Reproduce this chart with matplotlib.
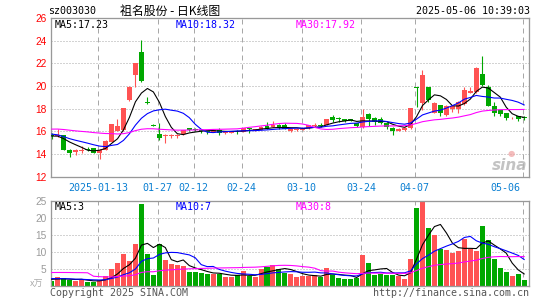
import numpy as np
import matplotlib
matplotlib.use("Agg")
import matplotlib.pyplot as plt
import matplotlib.transforms as mtransforms

# ---------------- data ----------------
date_idx = [8, 18, 24, 32, 42, 52, 61, 79]
date_labels = ['2025-01-13', '01-27', '02-12', '02-24', '03-10', '03-24', '04-07', '05-06']

opens = [15.70, 15.55, 15.68, 14.40, 14.20, 14.30, 14.45, 14.50, 14.05, 14.40,
         15.10, 16.05, 16.12, 18.76, 20.97, 23.03, 18.60, 16.60, 15.76, 15.62,
         15.60, 15.55, 15.76, 16.30, 16.25, 16.15, 16.00, 15.97, 16.15, 15.85,
         15.90, 16.05, 15.97, 16.25, 16.10, 16.12, 16.45, 16.40, 16.55, 16.55,
         16.00, 16.10, 16.15, 16.26, 16.50, 16.55, 16.60, 17.30, 17.15, 17.05,
         17.05, 16.70, 16.35, 17.53, 17.18, 17.06, 16.76, 16.30, 16.06, 16.12,
         16.26, 19.90, 18.53, 19.88, 17.65, 18.32, 17.44, 18.00, 18.00, 18.41,
         19.41, 19.47, 21.06, 19.94, 18.24, 17.88, 17.59, 17.15, 17.35, 17.30]
highs = [15.85, 16.20, 15.72, 14.45, 14.45, 14.70, 14.65, 14.55, 14.45, 15.20,
         16.65, 17.06, 18.05, 20.00, 22.05, 24.06, 19.06, 16.65, 16.70, 15.75,
         15.75, 15.75, 16.12, 16.32, 16.30, 16.25, 16.05, 16.20, 16.28, 16.00,
         16.05, 16.10, 16.30, 16.30, 16.20, 16.45, 16.82, 16.95, 16.65, 16.70,
         16.30, 16.30, 16.28, 16.55, 16.70, 16.70, 17.12, 17.45, 17.30, 17.10,
         17.10, 16.75, 17.94, 17.65, 17.25, 17.30, 16.80, 16.35, 16.30, 16.35,
         18.05, 19.90, 21.41, 19.95, 18.60, 18.35, 18.30, 18.35, 18.65, 19.94,
         19.94, 21.65, 22.65, 20.10, 18.60, 17.90, 17.60, 17.30, 17.40, 17.32]
lows = [15.30, 15.50, 14.35, 13.70, 13.90, 14.10, 14.30, 14.05, 13.60, 14.35,
        15.05, 16.00, 16.00, 18.70, 19.88, 20.40, 18.40, 16.45, 15.23, 15.00,
        15.45, 15.45, 15.72, 16.05, 16.00, 15.85, 15.80, 15.95, 15.65, 15.80,
        15.85, 15.80, 15.95, 15.85, 16.05, 16.10, 16.20, 16.38, 16.20, 16.20,
        15.95, 16.00, 16.10, 16.20, 16.35, 16.35, 16.55, 16.85, 16.85, 16.85,
        16.90, 16.35, 16.30, 16.47, 16.56, 16.65, 16.20, 15.70, 16.00, 16.00,
        16.20, 18.18, 17.88, 18.60, 17.60, 17.38, 17.35, 17.70, 17.65, 18.35,
        19.35, 19.40, 20.00, 18.20, 17.35, 17.35, 17.00, 17.10, 16.95, 17.00]
closes = [15.55, 15.65, 14.40, 14.10, 14.40, 14.40, 14.40, 14.10, 14.40, 15.15,
          16.62, 16.47, 18.03, 19.94, 22.00, 20.47, 18.50, 16.50, 15.38, 15.70,
          15.70, 15.70, 16.10, 16.12, 16.10, 16.05, 15.95, 16.15, 15.90, 15.97,
          16.00, 16.00, 16.28, 16.20, 16.15, 16.40, 16.25, 16.60, 16.30, 16.22,
          16.25, 16.25, 16.22, 16.52, 16.55, 16.50, 17.10, 17.00, 17.10, 16.90,
          16.95, 16.45, 17.24, 17.06, 16.85, 16.76, 16.41, 16.06, 16.24, 16.32,
          18.03, 19.84, 20.97, 18.76, 18.53, 17.59, 18.24, 18.20, 18.62, 19.65,
          19.55, 21.62, 20.09, 18.24, 17.65, 17.55, 17.15, 17.20, 17.10, 17.20]
volumes = [1.4, 2.5, 2.2, 1.7, 1.4, 1.7, 1.2, 1.2, 1.7, 2.9,
           4.9, 6.7, 9.3, 7.3, 12.5, 24.3, 9.3, 3.1, 12.3, 7.5,
           6.4, 6.1, 5.8, 4.0, 4.0, 3.9, 3.4, 3.6, 3.6, 2.5,
           2.5, 3.1, 4.3, 3.0, 2.5, 4.9, 5.6, 6.1, 4.9, 3.9,
           3.4, 2.6, 2.9, 2.9, 3.1, 2.6, 5.3, 3.3, 2.4, 2.0,
           2.1, 2.4, 9.0, 6.8, 3.1, 3.5, 3.1, 3.1, 2.9, 2.1,
           7.9, 23.1, 24.7, 17.0, 14.9, 11.0, 10.5, 9.7, 10.2, 13.9,
           11.0, 10.2, 17.8, 13.4, 7.8, 5.3, 4.0, 3.0, 3.4, 1.7]
# closes / volumes of the 29 sessions before the window (needed for the moving averages)
prior_closes = [15.50, 15.60, 15.90, 16.20, 15.80, 15.70, 15.90, 15.75,
                16.30, 16.90, 17.40, 17.20, 17.00, 16.80, 16.90, 17.10, 16.70, 16.60, 16.55, 16.60,
                16.30, 16.00, 15.90, 15.80, 15.65,
                15.70, 15.50, 15.60, 15.60]
prior_volumes = [2.0, 2.3, 1.9, 2.4, 2.1, 2.2, 32.0,
                 5.5, 5.0, 4.8, 4.5, 4.2, 4.0, 3.8, 3.6, 3.5, 3.3, 3.1, 3.0, 2.8,
                 2.5, 2.4, 2.2, 2.3, 2.1,
                 2.1, 1.9, 2.2, 1.9]
price_ticks = [12, 14, 16, 18, 20, 22, 24, 26]
vol_ticks = [5, 10, 15, 20, 25]

stock_code = 'sz003030'
title = '祖名股份 - 日K线图'
timestamp = '2025-05-06 10:39:03'
ma_price_labels = ['MA5:17.23', 'MA10:18.32', 'MA30:17.92']
ma_vol_labels = ['MA5:3', 'MA10:7', 'MA30:8']
copyright_text = 'Copyright 2025 SINA.COM'
url_text = 'http://finance.sina.com.cn'

# ---------------- styling ----------------
W, H = 545, 300
RED = '#ff5353'
GREEN = '#00a800'
MA_COLORS = ['#000000', '#0000ff', '#ff00ff']
GRID = '#a8a8a8'
FRAME = '#999999'
PX = 0.72  # one pixel in points at dpi 100
MONO = 'DejaVu Sans Mono'


def fx(px):
    return px / W


def fy(py):
    return 1 - py / H


def moving_avg(prior, values, n):
    s = np.array(prior + values, dtype=float)
    out = np.convolve(s, np.ones(n) / n, mode='valid')
    return out[-len(values):]


fig = plt.figure(figsize=(W / 100, H / 100), dpi=100)
fig.patch.set_facecolor('white')

L, R = 50.7, 529.3
ax = fig.add_axes([fx(L), fy(176.7), fx(R) - fx(L), fy(18.1) - fy(176.7)])
axv = fig.add_axes([fx(L), fy(285.7), fx(R) - fx(L), fy(201.3) - fy(285.7)])

n = len(closes)
x = np.arange(n)
xlim = (-0.17, 79.86)

for a in (ax, axv):
    a.set_xlim(*xlim)
    for s in a.spines.values():
        s.set_color(FRAME)
        s.set_linewidth(1.3 * PX)
    a.tick_params(length=0)
    for d in date_idx:
        a.axvline(d - 0.2, color=GRID, lw=PX, linestyle=(0, (5, 4)), zorder=0)

# ---- price panel ----
ax.set_ylim(12, 26)
ax.set_yticks(price_ticks)
ax.set_yticklabels([str(t) for t in price_ticks], color='#ff0000',
                   fontfamily='Liberation Sans', fontsize=7.3)
ax.tick_params(axis='y', pad=3.2)
for t in price_ticks[1:-1]:
    ax.axhline(t, color=GRID, lw=PX, linestyle=(0, (1, 2)), zorder=0)

o = np.array(opens); c = np.array(closes); hi = np.array(highs); lo = np.array(lows)
up = c >= o
colors = np.where(up, RED, GREEN)
ax.vlines(x, lo, hi, colors=colors, lw=PX * 1.1, zorder=2)
body_bottom = np.minimum(o, c)
body_h = np.maximum(np.abs(c - o), 0.07)
ax.bar(x, body_h, bottom=body_bottom, width=0.82, color=colors, linewidth=0, zorder=3)

for k, nma in enumerate([5, 10, 30]):
    ax.plot(x, moving_avg(prior_closes, closes, nma), color=MA_COLORS[k], lw=PX * 1.1, zorder=4)

ax.set_xticks([d - 0.3 for d in date_idx])
ax.set_xticklabels(date_labels, color='#0a7fd2', fontfamily=MONO, fontsize=7.2)
ax.tick_params(axis='x', pad=4.5)
last = ax.get_xticklabels()[-1]
last.set_horizontalalignment('right')
last.set_transform(last.get_transform() + mtransforms.ScaledTranslation(-2 / 100, 0, fig.dpi_scale_trans))

# watermark
ax.text(0.996, 0.025, 'sina', transform=ax.transAxes, ha='right', va='bottom',
        fontsize=11, fontstyle='italic', fontweight='bold', color='#b4b4b4',
        fontfamily='DejaVu Sans', alpha=0.8, zorder=1)
ax.text(0.962, 0.115, '●', transform=ax.transAxes, ha='center', va='bottom',
        fontsize=6, color='#f0a0a0', alpha=0.7, zorder=1)

# ---- volume panel ----
axv.set_ylim(0, 25)
axv.set_yticks(vol_ticks)
axv.set_yticklabels([str(t) for t in vol_ticks], color='#9a9a9a',
                    fontfamily='Liberation Sans', fontsize=7.3)
axv.tick_params(axis='y', pad=3.2)
axv.set_xticks([])
for t in vol_ticks[:-1]:
    axv.axhline(t, color=GRID, lw=PX, linestyle=(0, (1, 2)), zorder=0)
axv.bar(x, volumes, width=0.84, color=colors, linewidth=0, zorder=2)
for k, nma in enumerate([5, 10, 30]):
    axv.plot(x, moving_avg(prior_volumes, volumes, nma), color=MA_COLORS[k], lw=PX * 1.1, zorder=4)

# ---- texts ----
fig.text(fx(48), fy(11.5), stock_code, fontfamily=MONO, fontsize=7.2, va='center', ha='left')
fig.text(fx(120), fy(11), title, fontfamily=['Noto Sans CJK SC', 'DejaVu Sans'],
         fontsize=8.6, va='center', ha='left')
fig.text(fx(529.5), fy(11.5), timestamp, fontfamily=MONO, fontsize=7.2, va='center', ha='right')

for lab, col, px in zip(ma_price_labels, MA_COLORS, [54.5, 175.5, 295.5]):
    fig.text(fx(px), fy(24.5), lab, color=col, fontfamily=MONO, fontsize=7.2, va='center', ha='left')
for lab, col, px in zip(ma_vol_labels, MA_COLORS, [54.5, 175.5, 295.5]):
    fig.text(fx(px), fy(206.5), lab, color=col, fontfamily=MONO, fontsize=7.2, va='center', ha='left')

fig.text(fx(43), fy(284), 'x万', fontfamily=['Noto Sans CJK SC', 'DejaVu Sans'],
         fontsize=6.5, color='#aaaaaa', va='center', ha='right', fontstyle='italic')
fig.text(fx(50), fy(293.5), copyright_text, fontfamily=MONO, fontsize=7.2,
         color='#555555', va='center', ha='left')
fig.text(fx(529.5), fy(293.5), url_text, fontfamily=MONO, fontsize=7.2,
         color='#555555', va='center', ha='right')

fig.savefig('out.png', dpi=100)
